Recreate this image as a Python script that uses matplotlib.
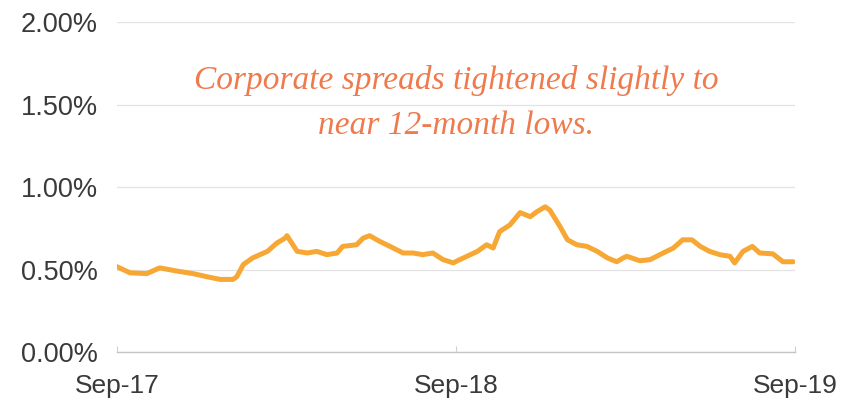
import pandas as pd
import matplotlib.pyplot as plt
from matplotlib.ticker import FuncFormatter

# Corporate spread, Sep-2017 to Sep-2019 (percent)
dates = ['2017-09-29', '2017-10-13', '2017-10-31', '2017-11-14', '2017-12-03',
         '2017-12-20', '2018-01-04', '2018-01-18', '2018-02-01', '2018-02-05',
         '2018-02-12', '2018-02-22', '2018-03-10', '2018-03-20', '2018-03-29',
         '2018-03-31', '2018-04-11', '2018-04-22', '2018-05-02', '2018-05-13',
         '2018-05-24', '2018-05-30', '2018-06-14', '2018-06-21', '2018-06-28',
         '2018-07-09', '2018-07-20', '2018-08-03', '2018-08-14', '2018-08-24',
         '2018-09-04', '2018-09-15', '2018-09-26', '2018-10-03', '2018-10-07',
         '2018-10-22', '2018-11-01', '2018-11-08', '2018-11-15', '2018-11-26',
         '2018-12-07', '2018-12-18', '2018-12-25', '2019-01-03', '2019-01-08',
         '2019-01-19', '2019-01-27', '2019-02-06', '2019-02-17', '2019-02-28',
         '2019-03-11', '2019-03-21', '2019-03-28', '2019-04-01', '2019-04-15',
         '2019-04-26', '2019-05-10', '2019-05-21', '2019-05-31', '2019-06-10',
         '2019-06-19', '2019-06-29', '2019-07-10', '2019-07-21', '2019-07-26',
         '2019-08-04', '2019-08-14', '2019-08-22', '2019-09-05', '2019-09-16',
         '2019-09-27']
spread = [0.517, 0.48, 0.475, 0.51, 0.49,
          0.475, 0.456, 0.44, 0.44, 0.456,
          0.53, 0.57, 0.61, 0.66, 0.69,
          0.705, 0.61, 0.60, 0.61, 0.59,
          0.60, 0.64, 0.65, 0.69, 0.705,
          0.67, 0.64, 0.60, 0.60, 0.59,
          0.60, 0.56, 0.54, 0.56, 0.57,
          0.61, 0.65, 0.63, 0.73, 0.77,
          0.845, 0.82, 0.85, 0.88, 0.86,
          0.76, 0.68, 0.65, 0.64, 0.61,
          0.57, 0.547, 0.57, 0.58, 0.553,
          0.56, 0.60, 0.63, 0.68, 0.68,
          0.64, 0.61, 0.59, 0.58, 0.54,
          0.61, 0.64, 0.60, 0.595, 0.547,
          0.547]

x_ticks = ['2017-09-29', '2018-09-29', '2019-09-29']
x_ticklabels = ['Sep-17', 'Sep-18', 'Sep-19']
y_ticks = [0.0, 0.5, 1.0, 1.5, 2.0]

note = 'Corporate spreads tightened slightly to\nnear 12-month lows.'

dt = pd.to_datetime(dates)
xt = pd.to_datetime(x_ticks)

plt.rcParams['font.family'] = ['Liberation Sans', 'DejaVu Sans']

fig = plt.figure(figsize=(8.44, 3.99), dpi=100)
ax = fig.add_axes([0.1386, 0.1178, 0.8034, 0.827])

ax.plot(dt, spread, color='#F7A733', linewidth=3.6, solid_joinstyle='round',
        solid_capstyle='round')

ax.set_ylim(0, 2.0)
ax.set_xlim(xt[0], xt[-1])
ax.set_yticks(y_ticks)
ax.yaxis.set_major_formatter(FuncFormatter(lambda v, p: f'{v:.2f}%'))
ax.set_xticks(xt)
ax.set_xticklabels(x_ticklabels)

ax.grid(axis='y', color='#e3e3e3', linewidth=0.9)
ax.set_axisbelow(True)
for s in ['top', 'right', 'left']:
    ax.spines[s].set_visible(False)
ax.spines['bottom'].set_color('#c4c4c4')
ax.spines['bottom'].set_linewidth(1.0)

ax.tick_params(axis='y', length=0, pad=14, labelsize=19.5, labelcolor='#3a3a3a')
ax.tick_params(axis='x', direction='in', length=4, color='#d0d0d0', pad=16,
               labelsize=19, labelcolor='#3a3a3a')

ax.text(0.5, 0.755, note, transform=ax.transAxes, ha='center', va='center',
        fontsize=24, style='italic', color='#EE7A4D',
        family=['Liberation Serif', 'DejaVu Serif'], linespacing=1.6)

fig.savefig('out.png', dpi=100)
